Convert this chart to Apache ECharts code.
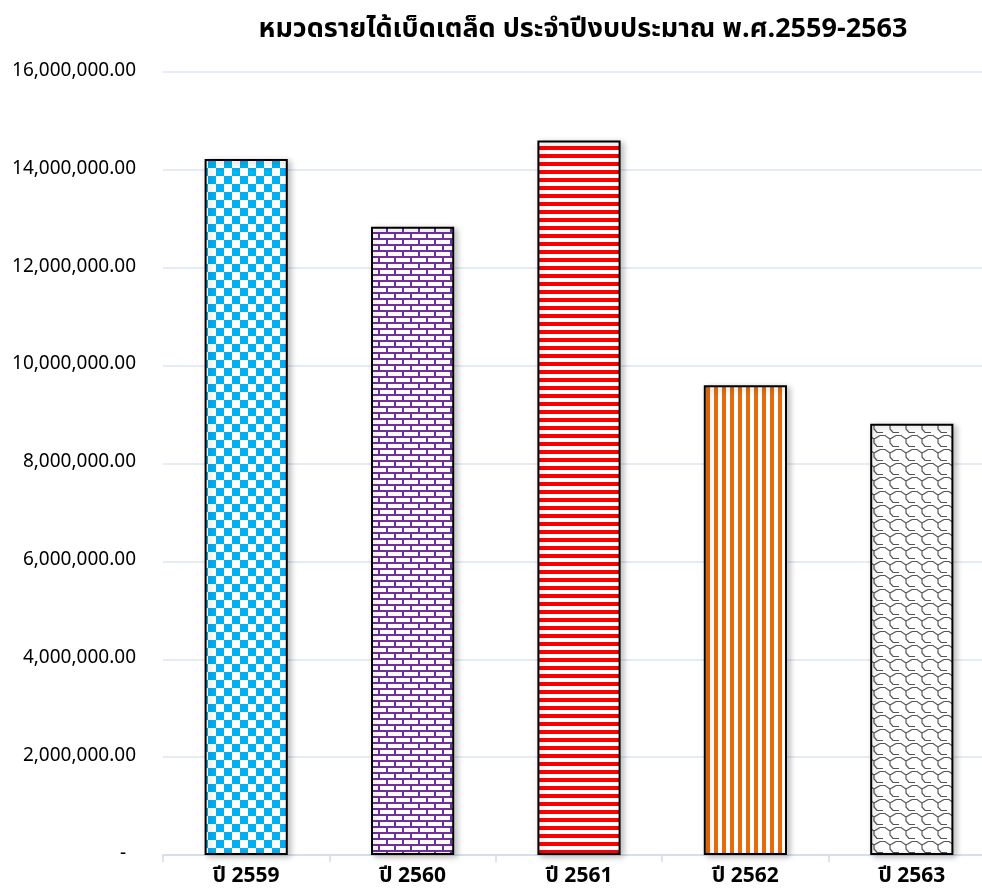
<!DOCTYPE html>
<html>
<head>
<meta charset="utf-8">
<script src="https://cdn.jsdelivr.net/npm/echarts@6/dist/echarts.min.js"></script>
<style>
  html, body { margin: 0; padding: 0; background: #fff; }
  #chart { width: 982px; height: 896px; }
</style>
</head>
<body>
<div id="chart"></div>
<script>
const titleText = 'หมวดรายได้เบ็ดเตล็ด ประจำปีงบประมาณ พ.ศ.2559-2563'
const categories = ['ปี 2559', 'ปี 2560', 'ปี 2561', 'ปี 2562', 'ปี 2563']
const values = [14220000, 12840000, 14600000, 9600000, 8810000]
const yTicks = [0, 2000000, 4000000, 6000000, 8000000, 10000000, 12000000, 14000000, 16000000]

const FONT = 'Tahoma, "Noto Sans Thai", "Noto Sans", "DejaVu Sans", sans-serif'

function tile(w, h, draw) {
  const c = document.createElement('canvas')
  c.width = w
  c.height = h
  const ctx = c.getContext('2d')
  ctx.fillStyle = '#fff'
  ctx.fillRect(0, 0, w, h)
  draw(ctx)
  return { image: c, repeat: 'repeat' }
}

// fill patterns, one per bar
const fills = [
  tile(16, 16, ctx => {
    ctx.fillStyle = '#00b0f0'
    ctx.fillRect(0, 0, 8, 8)
    ctx.fillRect(8, 8, 8, 8)
  }),
  tile(16, 12, ctx => {
    ctx.fillStyle = '#7030a0'
    ctx.fillRect(0, 4, 16, 2)
    ctx.fillRect(0, 10, 16, 2)
    ctx.fillRect(2, 0, 2, 6)
    ctx.fillRect(10, 6, 2, 6)
  }),
  tile(8, 8, ctx => {
    ctx.fillStyle = '#ff0000'
    ctx.fillRect(0, 2, 8, 4)
  }),
  tile(8, 8, ctx => {
    ctx.fillStyle = '#e46c0a'
    ctx.fillRect(2, 0, 4, 8)
  }),
  tile(16, 14, ctx => {
    ctx.strokeStyle = '#555'
    ctx.lineWidth = 1.2
    ctx.beginPath()
    ctx.moveTo(0, 1.5)
    ctx.lineTo(5, 1.5)
    ctx.lineTo(10, 5)
    ctx.lineTo(10, 9)
    ctx.lineTo(13, 12.5)
    ctx.lineTo(16, 12.5)
    ctx.moveTo(10, 5)
    ctx.lineTo(16, 1.5)
    ctx.moveTo(0, 12.5)
    ctx.lineTo(3, 12.5)
    ctx.stroke()
  })
]

const chart = echarts.init(document.getElementById('chart'))

const option = {
  animation: false,
  title: {
    text: titleText,
    left: 578,
    top: 13,
    textAlign: 'center',
    textStyle: { fontFamily: FONT, fontSize: 27, fontWeight: 'bold', color: '#000' }
  },
  grid: { left: 163, top: 72, right: -13, height: 783, containLabel: false, outerBoundsMode: 'none' },
  xAxis: {
    type: 'category',
    data: categories,
    axisLine: { lineStyle: { color: '#d0dbea', width: 1.5 } },
    axisTick: { show: true, length: 7, lineStyle: { color: '#d0dbea', width: 1.5 } },
    axisLabel: { margin: 12, fontFamily: FONT, fontSize: 21, fontWeight: 'bold', color: '#000' }
  },
  yAxis: {
    type: 'value',
    min: yTicks[0],
    max: yTicks[yTicks.length - 1],
    interval: yTicks[1] - yTicks[0],
    axisLine: { show: false },
    axisTick: { show: false },
    splitLine: { lineStyle: { color: '#dce6f2', width: 1.5 } },
    axisLabel: {
      margin: 27,
      fontFamily: FONT,
      fontSize: 19,
      color: '#000',
      formatter: v => v === 0 ? '-  ' : v.toLocaleString('en-US', { minimumFractionDigits: 2, maximumFractionDigits: 2 })
    }
  },
  series: [{
    type: 'bar',
    barWidth: '50%',
    data: values.map((v, i) => ({
      value: v,
      itemStyle: {
        color: fills[i],
        borderColor: '#000',
        borderWidth: 2,
        shadowColor: 'rgba(0,0,0,0.25)',
        shadowBlur: 6,
        shadowOffsetX: 3,
        shadowOffsetY: 2
      }
    }))
  }]
}

chart.setOption(option)
</script>
</body>
</html>
